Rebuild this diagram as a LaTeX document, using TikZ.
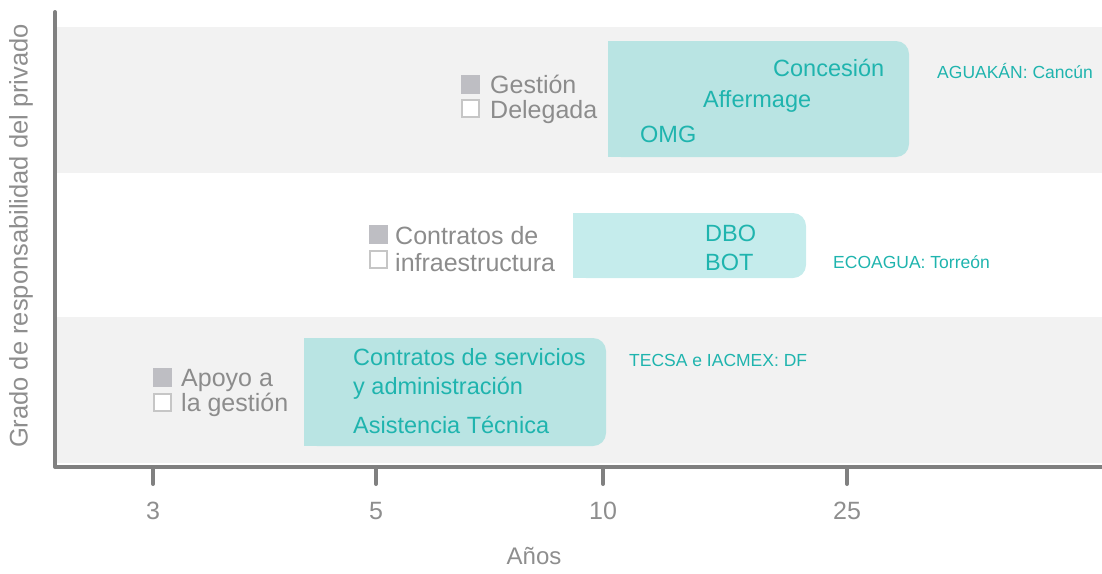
\documentclass[tikz,border=0pt]{standalone}
\usepackage{fontspec}
\setmainfont{Liberation Sans}
\definecolor{band}{HTML}{F2F2F2}
\definecolor{axisc}{HTML}{808080}
\definecolor{legtext}{HTML}{8C8C8C}
\definecolor{sqfill}{HTML}{BEBEC3}
\definecolor{sqline}{HTML}{C6C6C6}
\definecolor{tealtext}{HTML}{1FB4AE}
\definecolor{boxa}{HTML}{B9E4E3}
\definecolor{boxb}{HTML}{C5ECEC}
\definecolor{labgray}{HTML}{8E8E8E}
\tikzset{
  x=1pt, y=-1pt,
  bandbox/.style={fill=band, draw=none},
  modbox/.style={draw=none, rounded corners=13pt, inner sep=0pt},
  legtxt/.style={anchor=base west, inner sep=0pt, text=legtext, font=\fontsize{25}{28}\selectfont},
  tealtxt/.style={anchor=base west, inner sep=0pt, text=tealtext, font=\fontsize{23.5}{28}\selectfont},
  casetxt/.style={anchor=base west, inner sep=0pt, text=tealtext, font=\fontsize{17.5}{20}\selectfont},
  sqfull/.style={fill=sqfill, draw=none, minimum size=19pt, inner sep=0pt},
  sqempty/.style={fill=white, draw=sqline, line width=2pt, minimum size=17pt, inner sep=0pt},
  axisline/.style={draw=axisc, line width=4pt},
  tickline/.style={draw=axisc, line width=4pt, line cap=round},
  ticklab/.style={anchor=base, inner sep=0pt, text=labgray, font=\fontsize{25}{28}\selectfont},
}
\begin{document}
\begin{tikzpicture}
\useasboundingbox (0,0) rectangle (1102,573);
% bands
\path[bandbox] (57,27) rectangle (1102,173);
\path[bandbox] (57,317) rectangle (1102,463);

% model boxes
\node[modbox, fill=boxa, minimum width=301pt, minimum height=116pt] (topbox) at (758.5,99) {};
\fill[boxa] (topbox.north west) rectangle ([xshift=30pt]topbox.south west);
\node[modbox, fill=boxb, minimum width=233pt, minimum height=65pt] (midbox) at (689.5,245.5) {};
\fill[boxb] (midbox.north west) rectangle ([xshift=30pt]midbox.south west);
\node[modbox, fill=boxa, minimum width=302pt, minimum height=108pt] (botbox) at (455,392) {};
\fill[boxa] (botbox.north west) rectangle ([xshift=30pt]botbox.south west);

% texts in boxes
\node[tealtxt] (conc) at (773,76) {Concesión};
\node[tealtxt] (aff) at (703,107) {Affermage};
\node[tealtxt] (omg) at (640,142) {OMG};
\node[tealtxt] (dbo) at (705,241) {DBO};
\node[tealtxt] (bot) at (705,270) {BOT};
\node[tealtxt] (cs1) at (353,365) {Contratos de servicios};
\node[tealtxt] (cs2) at (353,394) {y administración};
\node[tealtxt] (at) at (353,433) {Asistencia Técnica};

% case labels
\node[casetxt] (aguakan) at (937,78) {AGUAKÁN: Cancún};
\node[casetxt] (ecoagua) at (833,268) {ECOAGUA: Torreón};
\node[casetxt] (tecsa) at (629,366) {TECSA e IACMEX: DF};

% legends
\node[sqfull] (sq1a) at (470.5,84) {};
\node[sqempty] (sq1b) at (470.5,108.5) {};
\node[legtxt] (gest) at (490,93) {Gestión};
\node[legtxt] (dele) at (490,118) {Delegada};

\node[sqfull] (sq2a) at (378,234.5) {};
\node[sqempty] (sq2b) at (378,259.5) {};
\node[legtxt] (contr) at (395,244) {Contratos de};
\node[legtxt] (infra) at (395,271) {infraestructura};

\node[sqfull] (sq3a) at (162.5,377.5) {};
\node[sqempty] (sq3b) at (162.5,402.5) {};
\node[legtxt] (apoyo) at (181,386) {Apoyo a};
\node[legtxt] (lages) at (181,411) {la gestión};

% axes
\coordinate (ytop) at (55,12);
\coordinate (orig) at (55,467);
\coordinate (xend) at (1102,467);
\draw[axisline, line cap=round] (ytop) -- (orig);
\draw[axisline] (orig) -- (xend);

% ticks
\foreach \xx/\lab/\nm in {153/3/a, 376/5/b, 603/10/c, 847/25/d}{
  \coordinate (t\nm top) at (\xx,467);
  \coordinate (t\nm bot) at (\xx,484);
  \draw[tickline] (t\nm top) -- (t\nm bot);
  \node[ticklab] (l\nm) at (\xx,519) {\lab};
}
\node[ticklab, font=\fontsize{24}{28}\selectfont] (anos) at (534,564) {Años};
\node[inner sep=0pt, text=labgray, font=\fontsize{25.5}{28}\selectfont, rotate=90, anchor=center] (ylab) at (21,236) {Grado de responsabilidad del privado};
\end{tikzpicture}
\end{document}
